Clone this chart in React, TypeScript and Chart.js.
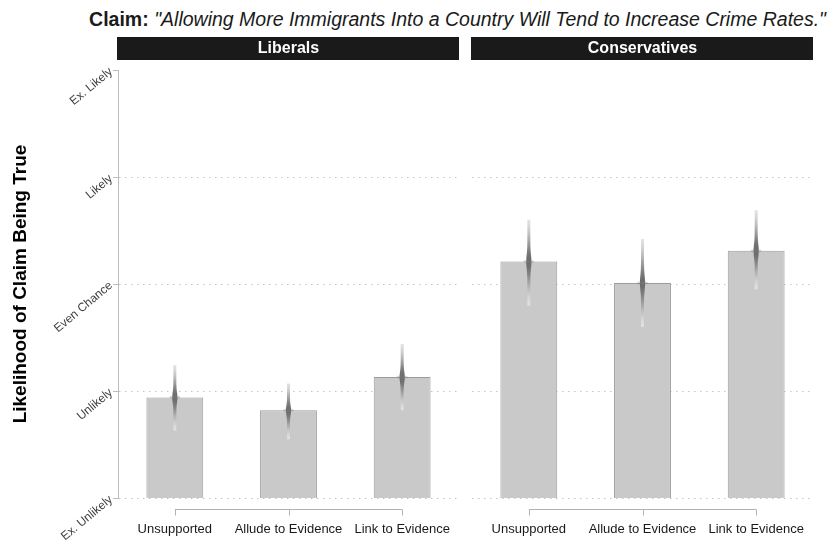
import React, { useEffect, useRef } from 'react';
import { Chart, registerables } from 'chart.js';

Chart.register(...registerables);

// Message framings shown to each group
const categories = ['Unsupported', 'Allude to Evidence', 'Link to Evidence'];

// Verbal likelihood scale, from 1 (Ex. Unlikely) to 5 (Ex. Likely)
const likelihoodLabels = ['Ex. Unlikely', 'Unlikely', 'Even Chance', 'Likely', 'Ex. Likely'];

// Mean rating and uncertainty interval per framing
const liberalMeans = [1.94, 1.82, 2.13];
const liberalLower = [1.63, 1.55, 1.82];
const liberalUpper = [2.24, 2.07, 2.44];

const conservativeMeans = [3.21, 3.01, 3.31];
const conservativeLower = [2.8, 2.6, 2.95];
const conservativeUpper = [3.6, 3.42, 3.69];

const FONT = '"Liberation Sans", Arial, Helvetica, sans-serif';

type PanelProps = {
  label: string;
  means: number[];
  lower: number[];
  upper: number[];
  showYAxis: boolean;
  left: number;
  width: number;
  padLeft: number;
  padRight: number;
};

function Panel({ label, means, lower, upper, showYAxis, left, width, padLeft, padRight }: PanelProps) {
  const ref = useRef<HTMLCanvasElement | null>(null);

  useEffect(() => {
    if (!ref.current) return;

    const decor = {
      id: 'facetDecor',
      afterDatasetsDraw(chart: any) {
        const { ctx, scales } = chart;
        const xs = scales.x;
        const ys = scales.y;
        means.forEach((m, i) => {
          const cx = xs.getPixelForValue(i);
          const yTop = ys.getPixelForValue(upper[i]);
          const yBot = ys.getPixelForValue(lower[i]);
          const yMid = ys.getPixelForValue(m);
          const sdUp = (yMid - yTop) / 2.2;
          const sdDn = (yBot - yMid) / 2.2;
          const dens = (py: number) => {
            const z = py < yMid ? (yMid - py) / sdUp : (py - yMid) / sdDn;
            return Math.exp((-z * z) / 2);
          };
          const grad = ctx.createLinearGradient(0, yTop, 0, yBot);
          const steps = 30;
          for (let k = 0; k <= steps; k++) {
            const py = yTop + ((yBot - yTop) * k) / steps;
            const lum = Math.round(238 - 130 * dens(py));
            grad.addColorStop(k / steps, `rgb(${lum},${lum},${lum})`);
          }
          const half = (py: number) => 1.5 + 1.1 * Math.pow(dens(py), 8);
          ctx.save();
          ctx.beginPath();
          const n = 80;
          for (let k = 0; k <= n; k++) {
            const py = yTop + ((yBot - yTop) * k) / n;
            const px = cx - half(py);
            if (k === 0) ctx.moveTo(px, py);
            else ctx.lineTo(px, py);
          }
          for (let k = n; k >= 0; k--) {
            const py = yTop + ((yBot - yTop) * k) / n;
            ctx.lineTo(cx + half(py), py);
          }
          ctx.closePath();
          ctx.fillStyle = grad;
          ctx.fill();
          ctx.fillStyle = 'rgba(125,125,125,0.3)';
          ctx.beginPath();
          ctx.ellipse(cx, yMid, 5.5, 1.8, 0, 0, Math.PI * 2);
          ctx.fill();
          ctx.restore();
        });
      },
      afterDraw(chart: any) {
        const { ctx, chartArea, scales } = chart;
        const xs = scales.x;
        ctx.save();
        // facet strip
        ctx.fillStyle = '#1a1a1a';
        ctx.fillRect(chartArea.left - 1, 37, chartArea.right - chartArea.left + 1, 23);
        ctx.fillStyle = '#ffffff';
        ctx.font = `bold 16px ${FONT}`;
        ctx.textAlign = 'center';
        ctx.textBaseline = 'middle';
        ctx.fillText(label, (chartArea.left + chartArea.right) / 2, 49);
        // capped bottom axis
        const x0 = xs.getPixelForValue(0);
        const x2 = xs.getPixelForValue(categories.length - 1);
        const yb = chartArea.bottom + 11.5;
        ctx.strokeStyle = '#b3b3b3';
        ctx.lineWidth = 1;
        ctx.beginPath();
        ctx.moveTo(x0, yb);
        ctx.lineTo(x2, yb);
        for (let i = 0; i < categories.length; i++) {
          const px = Math.round(xs.getPixelForValue(i)) + 0.5;
          ctx.moveTo(px, yb);
          ctx.lineTo(px, yb + 6);
        }
        ctx.stroke();
        ctx.restore();
      },
    };

    const chart = new Chart(ref.current, {
      type: 'bar',
      data: {
        labels: categories,
        datasets: [
          {
            data: means,
            backgroundColor: '#c8c9c8',
            borderColor: '#9c9c9c',
            borderWidth: 1,
            borderSkipped: false,
            barPercentage: 0.5,
            categoryPercentage: 1,
          },
        ],
      },
      options: {
        responsive: false,
        animation: false,
        layout: { padding: { top: 70, left: padLeft, right: padRight, bottom: 0 } },
        plugins: {
          legend: { display: false },
          tooltip: { enabled: false },
        },
        scales: {
          x: {
            grid: { display: false },
            border: { display: false },
            afterFit: (scale: any) => {
              scale.height = 51;
              scale.paddingLeft = 0;
              scale.paddingRight = 0;
            },
            ticks: {
              autoSkip: false,
              maxRotation: 0,
              padding: 16,
              color: '#1a1a1a',
              font: { family: FONT, size: 13 },
            },
          },
          y: {
            min: 1,
            max: 5,
            afterFit: (scale: any) => {
              scale.width = showYAxis ? 118 : 0;
              scale.paddingTop = 0;
              scale.paddingBottom = 0;
            },
            grid: {
              color: (c: any) => (c.tick && c.tick.value === 5 ? 'rgba(0,0,0,0)' : '#c4c4c4'),
              lineWidth: 1,
              drawTicks: showYAxis,
              tickLength: 5,
              tickColor: '#bdbdbd',
            },
            border: { display: showYAxis, color: '#bdbdbd', width: 1, dash: [1.5, 4.5] },
            title: {
              display: showYAxis,
              text: 'Likelihood of Claim Being True',
              color: '#000000',
              font: { family: FONT, size: 19, weight: 'bold' },
              padding: { top: 9, bottom: 0 },
            },
            ticks: {
              display: showYAxis,
              stepSize: 1,
              minRotation: 40,
              maxRotation: 40,
              padding: 2,
              color: '#3d3d3d',
              font: { family: FONT, size: 12 },
              callback: (v: any) => likelihoodLabels[Math.round(Number(v)) - 1],
            },
          },
        },
      },
      plugins: [decor],
    } as any);

    return () => chart.destroy();
  }, [label, means, lower, upper, showYAxis, padLeft, padRight]);

  return (
    <canvas
      ref={ref}
      width={width}
      height={549}
      style={{ position: 'absolute', left, top: 0, width, height: 549, display: 'block' }}
    />
  );
}

export default function App() {
  return (
    <div
      style={{
        position: 'absolute',
        left: 0,
        top: 0,
        width: 828,
        height: 549,
        background: '#ffffff',
        overflow: 'hidden',
      }}
    >
      <div
        style={{
          position: 'absolute',
          right: 2,
          top: 9,
          fontFamily: FONT,
          fontSize: 19.5,
          lineHeight: '20px',
          whiteSpace: 'nowrap',
          color: '#1a1a1a',
        }}
      >
        <b>Claim:</b> <i>"Allowing More Immigrants Into a Country Will Tend to Increase Crime Rates."</i>
      </div>
      <Panel
        label="Liberals"
        means={liberalMeans}
        lower={liberalLower}
        upper={liberalUpper}
        showYAxis={true}
        left={0}
        width={462}
        padLeft={0}
        padRight={3}
      />
      <Panel
        label="Conservatives"
        means={conservativeMeans}
        lower={conservativeLower}
        upper={conservativeUpper}
        showYAxis={false}
        left={462}
        width={366}
        padLeft={10}
        padRight={15}
      />
    </div>
  );
}
